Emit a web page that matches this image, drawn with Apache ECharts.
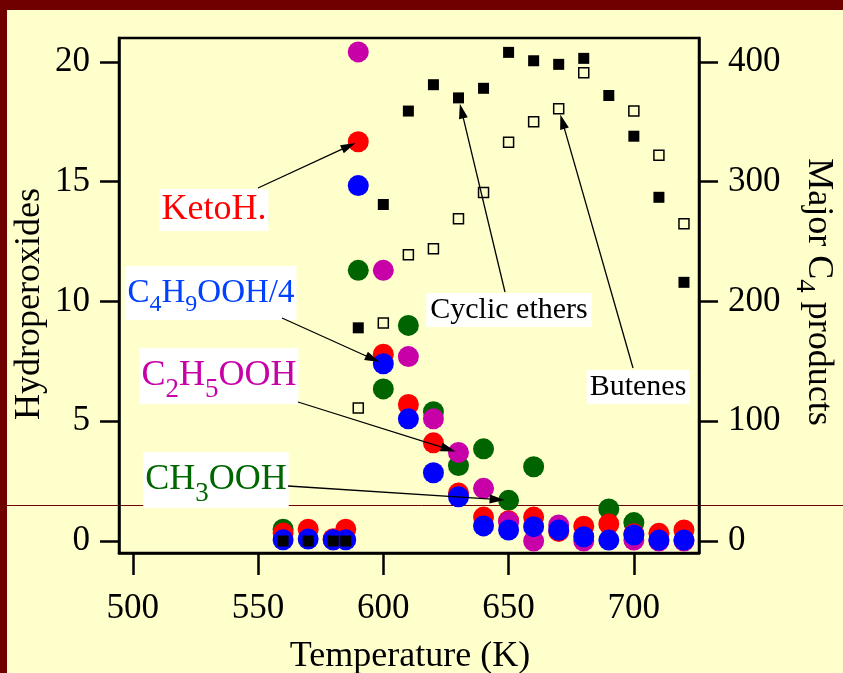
<!DOCTYPE html>
<html><head><meta charset="utf-8">
<script src="https://cdn.jsdelivr.net/npm/echarts@6/dist/echarts.min.js"></script>
<style>html,body{margin:0;padding:0;background:#FFFFCC}#c{width:843px;height:673px}</style>
</head><body><div id="c"></div>
<script>
// ---- data ----
const temps        = [560, 570, 580, 585, 590, 600, 610, 620, 630, 640, 650, 660, 670, 680, 690, 700, 710, 720];
const ketoH        = [0.33, 0.49, 0.1, 0.49, 16.67, 7.8, 5.7, 4.1, 2.0, 1.0, 0.85, 1.0, 0.4, 0.62, 0.71, 0.3, 0.32, 0.46];
const c4h9oohQ     = [0.05, 0.08, 0.05, 0.05, 14.84, 7.4, 5.1, 2.85, 1.85, 0.63, 0.46, 0.6, 0.46, 0.18, 0.04, 0.25, 0.04, 0.04];
const c2h5ooh      = [null, null, 0.05, null, 20.42, 11.3, 7.7, 5.1, 3.7, 2.2, 0.8, 0.0, 0.67, 0.0, null, 0.04, 0.0, 0.0];
const ch3ooh       = [0.49, null, null, null, 11.3, 6.35, 9.0, 5.4, 3.15, 3.85, 1.7, 3.1, null, null, 1.34, 0.77, null, null];
const cyclicEthers = [0, 0, 0, 0, 178, 281, 359, 381, 370, 378, 408, 401, 398, 403, 372, 338, 287, 216];
const butenes      = [null, null, null, null, 111, 182, 239, 244, 269, 291, 333, 350, 361, 391, null, 359, 322, 265];
const xTicks       = [500, 550, 600, 650, 700];
const yLeftTicks   = [0, 5, 10, 15, 20];
const yRightTicks  = [0, 100, 200, 300, 400];

const FONT = '"Liberation Serif", "Times New Roman", serif';
const pairs = arr => temps.map((t, i) => [t, arr[i]]).filter(p => p[1] !== null);
const valAt = (arr, t) => arr[temps.indexOf(t)];

const chart = echarts.init(document.getElementById('c'), null, {renderer: 'canvas'});

const tickStyle = {color: '#000', width: 2.5};
const labelStyle = {fontSize: 35, fontFamily: FONT, color: '#000'};

function circleSeries(name, arr, color) {
  return {type: 'scatter', name, yAxisIndex: 0, symbol: 'circle', symbolSize: 21,
    itemStyle: {color, opacity: 1}, emphasis: {disabled: true}, data: pairs(arr)};
}

const option = {
  backgroundColor: '#FFFFCC',
  animation: false,
  grid: {left: 119, right: 144, top: 38, bottom: 120, show: true, borderColor: '#000', borderWidth: 2.5, backgroundColor: 'transparent'},
  xAxis: {
    type: 'value', min: 494.5, max: 726,
    axisLine: {show: true, onZero: false, lineStyle: tickStyle},
    splitLine: {show: false},
    axisTick: {show: true, customValues: xTicks, length: 22, lineStyle: tickStyle},
    axisLabel: Object.assign({customValues: xTicks, margin: 38}, labelStyle)
  },
  yAxis: [{
    type: 'value', min: -0.5, max: 21, position: 'left',
    axisLine: {show: true, onZero: false, lineStyle: tickStyle},
    splitLine: {show: false},
    axisTick: {show: true, customValues: yLeftTicks, length: 19, lineStyle: tickStyle},
    axisLabel: Object.assign({customValues: yLeftTicks, margin: 29}, labelStyle)
  }, {
    type: 'value', min: -10, max: 420, position: 'right', alignTicks: false,
    axisLine: {show: true, onZero: false, lineStyle: tickStyle},
    splitLine: {show: false},
    axisTick: {show: true, customValues: yRightTicks, length: 19, lineStyle: tickStyle},
    axisLabel: Object.assign({customValues: yRightTicks, margin: 29}, labelStyle)
  }],
  series: [
    circleSeries('CH3OOH', ch3ooh, '#006400'),
    circleSeries('KetoH.', ketoH, '#FF0000'),
    circleSeries('C2H5OOH', c2h5ooh, '#C800A8'),
    circleSeries('C4H9OOH/4', c4h9oohQ, '#0000FF'),
    {type: 'scatter', name: 'Cyclic ethers', yAxisIndex: 1, symbol: 'rect', symbolSize: 11,
      itemStyle: {color: '#000', opacity: 1}, emphasis: {disabled: true}, data: pairs(cyclicEthers)},
    {type: 'scatter', name: 'Butenes', yAxisIndex: 1, symbol: 'rect', symbolSize: 10,
      itemStyle: {color: 'rgba(0,0,0,0)', borderColor: '#000', borderWidth: 1.5, opacity: 1}, emphasis: {disabled: true}, data: pairs(butenes)}
  ]
};
chart.setOption(option);

// ---- annotations ----
function richText(size, color, subRatio) {
  const r = subRatio || 0.75;
  return {
    n: {fontSize: size, fontFamily: FONT, fill: color},
    s: {fontSize: Math.round(size * r), fontFamily: FONT, fill: color, padding: [Math.round(size * 0.74), 0, 0, 0]}
  };
}
function label(x, y, text, color, size, pad, rot, subRatio) {
  return {type: 'text', x, y, rotation: rot || 0, z: 15,
    style: {text, rich: richText(size, color, subRatio), fill: color, align: 'center', verticalAlign: 'middle',
      backgroundColor: pad ? '#FFFFFF' : null, padding: pad || 0}};
}
function arrow(sx, sy, axis, t, v, back) {
  const p = chart.convertToPixel({xAxisIndex: 0, yAxisIndex: axis}, [t, v]);
  let dx = p[0] - sx, dy = p[1] - sy; const L = Math.hypot(dx, dy); const ux = dx / L, uy = dy / L;
  const tx = p[0] - ux * back, ty = p[1] - uy * back;
  const hl = 15, hw = 4.5; const bx = tx - ux * hl, by = ty - uy * hl;
  return [
    {type: 'line', z: 20, shape: {x1: sx, y1: sy, x2: bx + ux * 2, y2: by + uy * 2}, style: {stroke: '#000', lineWidth: 1.3}},
    {type: 'polygon', z: 20, shape: {points: [[tx, ty], [bx - uy * hw, by + ux * hw], [bx + uy * hw, by - ux * hw]]}, style: {fill: '#000'}}
  ];
}

const W = 843, H = 673;
const graphics = [
  {type: 'rect', z: 0, shape: {x: 0, y: 0, width: W, height: 10}, style: {fill: '#700000'}},
  {type: 'rect', z: 0, shape: {x: 0, y: 0, width: 7, height: H}, style: {fill: '#700000'}},
  {type: 'line', z: 0, shape: {x1: 0, y1: 505.5, x2: W, y2: 505.5}, style: {stroke: '#700000', lineWidth: 1}},
  // axis titles
  label(410, 657, '{n|Temperature (K)}', '#000', 36),
  label(30, 304, '{n|Hydroperoxides}', '#000', 36, null, Math.PI / 2),
  label(818, 292, '{n|Major C}{s|4}{n| products}', '#000', 36, null, -Math.PI / 2),
  // series labels
  label(214, 210, '{n|KetoH.}', '#FF0000', 36, [3, 2, 3, 2]),
  label(211, 293, '{n|C}{s|4}{n|H}{s|9}{n|OOH/4}', '#0040FF', 33, [3, 2, 3, 2], 0, 0.72),
  label(219, 376, '{n|C}{s|2}{n|H}{s|5}{n|OOH}', '#C800A8', 36, [1, 2, 1, 2]),
  label(216, 480, '{n|CH}{s|3}{n|OOH}', '#006600', 36, [1, 2, 1, 2]),
  label(509, 310, '{n|Cyclic ethers}', '#000', 30, [2, 4, 2, 4]),
  label(638, 387, '{n|Butenes}', '#000', 30, [2, 3, 2, 3]),
  ...arrow(258, 188, 0, 590, valAt(ketoH, 590), 3),
  ...arrow(282, 318, 0, 600, valAt(c4h9oohQ, 600), 4),
  ...arrow(298, 402, 0, 630, valAt(c2h5ooh, 630), 3),
  ...arrow(288, 486, 0, 650, valAt(ch3ooh, 650), 4),
  ...arrow(505, 292, 1, 630, valAt(cyclicEthers, 630), 6),
  ...arrow(633, 368, 1, 670, valAt(butenes, 670), 6)
];
chart.setOption({graphic: graphics});
</script>
</body></html>
